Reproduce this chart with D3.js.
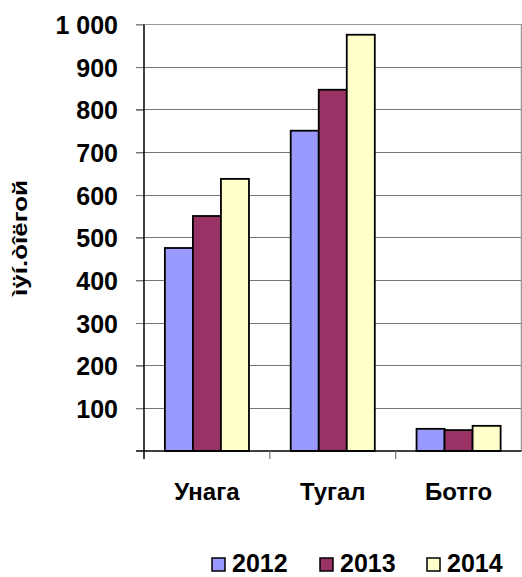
<!DOCTYPE html>
<html><head><meta charset="utf-8">
<script src="https://cdn.jsdelivr.net/npm/d3@7"></script>
<style>
html,body{margin:0;padding:0;background:#fff;}
svg{display:block;font-family:"Liberation Sans",Arial,sans-serif;font-weight:bold;}
</style></head>
<body><svg id="c" width="522" height="577"></svg>
<script>
const categories = ["Унага", "Тугал", "Ботго"];
const series = ["2012", "2013", "2014"];
const values2012 = [476, 751, 52];
const values2013 = [551, 847, 49];
const values2014 = [638, 976, 59];
const yTicks = [100, 200, 300, 400, 500, 600, 700, 800, 900, 1000];
const yTitle = "ìÿí.òîëгой";
const colors = ["#9999FF", "#993366", "#FFFFCC"];

const seriesValues = [values2012, values2013, values2014];
const svg = d3.select("#c");
const pLeft = 144, pRight = 521.5, pTop = 24.5, pBottom = 451;

const y = d3.scaleLinear().domain([0, 1000]).range([pBottom, pTop]);
const x0 = d3.scaleBand().domain(categories).range([pLeft, pRight]).paddingInner(0).paddingOuter(0);
const x1 = d3.scaleBand().domain(series).range([0, x0.bandwidth()]).paddingInner(0).paddingOuter(0.745);

// gridlines
svg.append("g").selectAll("line").data(yTicks).join("line")
  .attr("x1", pLeft - 8).attr("x2", pRight)
  .attr("y1", d => y(d)).attr("y2", d => y(d))
  .attr("stroke", d => d === 1000 ? "#999" : "#777")
  .attr("stroke-width", d => d === 1000 ? 1.5 : 1)
  .attr("shape-rendering", "crispEdges");
// right border
svg.append("line").attr("x1", pRight).attr("x2", pRight).attr("y1", pTop).attr("y2", pBottom)
  .attr("stroke", "#999").attr("stroke-width", 1.5);

// bars
const groups = svg.append("g").selectAll("g").data(categories).join("g")
  .attr("transform", d => `translate(${x0(d)},0)`);
groups.selectAll("rect").data((c, i) => series.map((s, j) => ({s, v: seriesValues[j][i], j})))
  .join("rect")
  .attr("x", d => x1(d.s)).attr("width", x1.bandwidth())
  .attr("y", d => y(d.v)).attr("height", d => pBottom - y(d.v))
  .attr("fill", d => colors[d.j]).attr("stroke", "#000").attr("stroke-width", 1.8);

// y axis
const yAxis = d3.axisLeft(y).tickValues(yTicks).tickSize(8).tickPadding(18)
  .tickFormat(d => d3.format(",")(d).replace(",", " "));
const gy = svg.append("g").attr("transform", `translate(${pLeft},0)`).call(yAxis);
gy.select(".domain").remove();
gy.selectAll(".tick line").attr("stroke", "#777");
gy.selectAll(".tick text").attr("font-size", 25).attr("font-weight", "bold")
  .attr("font-family", "'Liberation Sans', Arial, sans-serif").attr("fill", "#000")
  .attr("dy", "0.36em");
svg.append("line").attr("x1", pLeft).attr("x2", pLeft).attr("y1", pTop).attr("y2", pBottom + 8)
  .attr("stroke", "#000").attr("stroke-width", 1.5);
// x axis
svg.append("line").attr("x1", pLeft - 8).attr("x2", pRight).attr("y1", pBottom).attr("y2", pBottom)
  .attr("stroke", "#000").attr("stroke-width", 1.5);
const xt = x0.domain().map(d => x0(d)).concat([pRight]);
svg.append("g").selectAll("line").data(xt.slice(1, 3)).join("line")
  .attr("x1", d => d).attr("x2", d => d).attr("y1", pBottom).attr("y2", pBottom + 8)
  .attr("stroke", "#777").attr("stroke-width", 1.2);
svg.append("g").selectAll("text").data(categories).join("text")
  .attr("x", d => x0(d) + x0.bandwidth() / 2).attr("y", 500)
  .attr("text-anchor", "middle").attr("font-size", 24).text(d => d);

// y title
svg.append("text").attr("transform", "translate(27,238) rotate(-90)")
  .attr("text-anchor", "middle").attr("font-size", 20)
  .attr("textLength", 116).attr("lengthAdjust", "spacingAndGlyphs").text(yTitle);

// legend
const legX = [212, 320, 427];
const leg = svg.append("g").selectAll("g").data(series).join("g")
  .attr("transform", (d, i) => `translate(${legX[i]},0)`);
leg.append("rect").attr("x", 0).attr("y", 558).attr("width", 13).attr("height", 13)
  .attr("fill", (d, i) => colors[i]).attr("stroke", "#000").attr("stroke-width", 1.5);
leg.append("text").attr("x", 20).attr("y", 572).attr("font-size", 25).text(d => d);
</script></body></html>
